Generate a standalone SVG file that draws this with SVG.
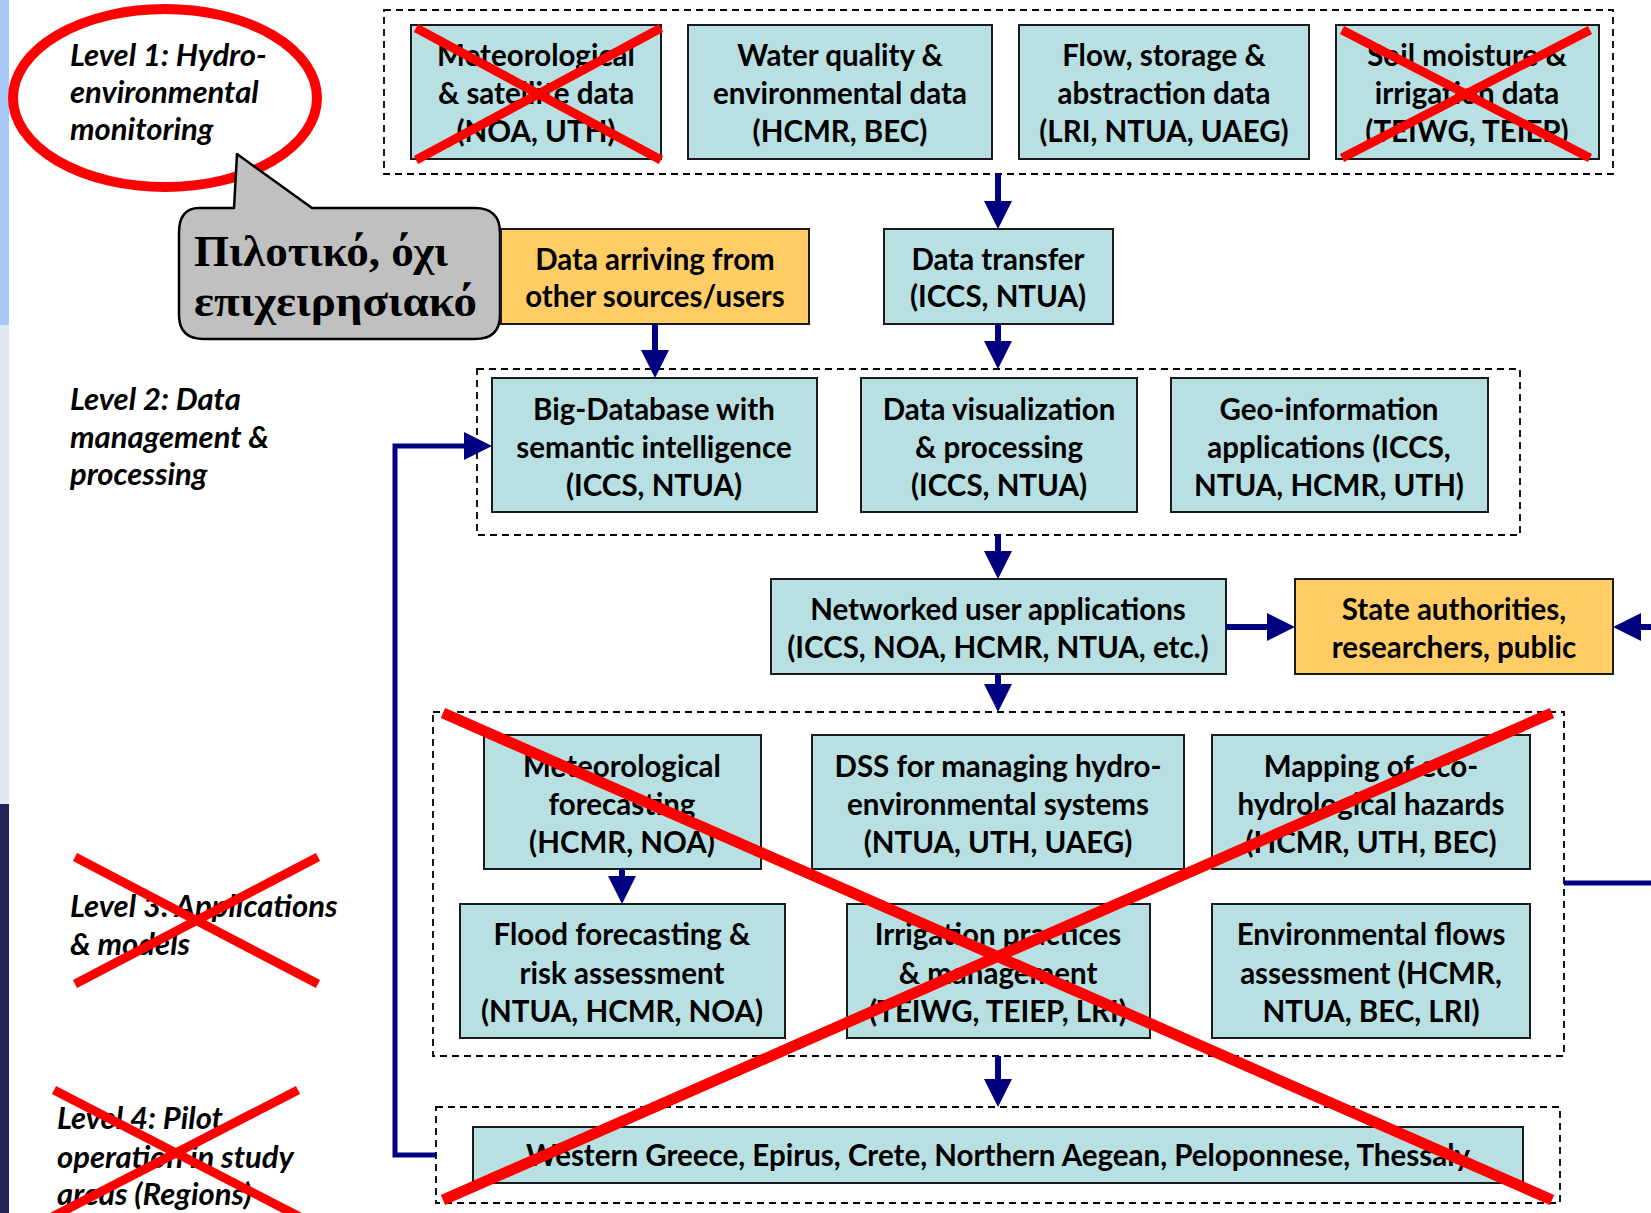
<svg xmlns="http://www.w3.org/2000/svg" width="1651" height="1213" viewBox="0 0 1651 1213">
<defs>
<style>
.box{fill:#b8dfe2;stroke:#1a1a1a;stroke-width:2}
.org{fill:#ffcc66;stroke:#1a1a1a;stroke-width:2}
.dash{fill:none;stroke:#000;stroke-width:1.8;stroke-dasharray:7 5}
.t{font-family:Lato,"Liberation Sans",sans-serif;font-weight:bold;font-size:29.5px;fill:#000;text-anchor:middle}
.lv{font-family:Lato,"Liberation Sans",sans-serif;font-weight:bold;font-style:italic;font-size:31px;fill:#000}
.gr{font-family:"Liberation Serif","DejaVu Serif",serif;font-weight:bold;font-size:44px;fill:#000}
.conn{fill:none;stroke:#000080;stroke-width:6}
.x{stroke:#ff0000;stroke-width:9;fill:none}
.xb{stroke:#ff0000;stroke-width:11;fill:none}
</style>
<marker id="ah" viewBox="0 0 28 28" refX="0" refY="14" markerWidth="28" markerHeight="28" markerUnits="userSpaceOnUse" orient="auto">
<path d="M0 0 L28 14 L0 28 Z" fill="#000080"/>
</marker>
</defs>
<rect width="1651" height="1213" fill="#ffffff"/>
<g id="edge-strip">
<rect x="0" y="0" width="9" height="325" fill="#a8c8f8"/>
<rect x="0" y="325" width="9" height="479" fill="#e0e8f4"/>
<rect x="0" y="804" width="9" height="409" fill="#24245c"/>
</g>

<g id="containers">
<rect class="dash" x="384" y="10" width="1229" height="164"/>
<rect class="dash" x="477" y="369" width="1043" height="166"/>
<rect class="dash" x="433" y="712" width="1131" height="344"/>
<rect class="dash" x="436" y="1107" width="1124" height="96"/>
</g>

<g id="level-labels">
<g id="level1">
<ellipse cx="165" cy="98" rx="152" ry="89" fill="none" stroke="#ff0000" stroke-width="10"/>
<text class="lv" x="70" y="66">Level 1: Hydro-</text>
<text class="lv" x="70" y="103">environmental</text>
<text class="lv" x="70" y="140">monitoring</text>
</g>
<g id="level2">
<text class="lv" x="70" y="410">Level 2: Data</text>
<text class="lv" x="70" y="448">management &amp;</text>
<text class="lv" x="70" y="485">processing</text>
</g>
<g id="level3">
<text class="lv" x="70" y="917">Level 3: Applications</text>
<text class="lv" x="70" y="955">&amp; models</text>
</g>
<g id="level4">
<text class="lv" x="57" y="1129">Level 4: Pilot</text>
<text class="lv" x="57" y="1168">operation in study</text>
<text class="lv" x="57" y="1205">areas (Regions)</text>
</g>
</g>

<g id="callout">
<path d="M199 208 H234 L237 154 L312 208 H475 Q500 208 500 233 V315 Q500 339 475 339 H204 Q179 339 179 315 V233 Q179 208 199 208 Z" fill="#c0c0c0" stroke="#000" stroke-width="2.5" stroke-linejoin="round"/>
<text class="gr" x="194" y="266" textLength="254" lengthAdjust="spacingAndGlyphs">Πιλοτικό, όχι</text>
<text class="gr" x="194" y="316" textLength="283" lengthAdjust="spacingAndGlyphs">επιχειρησιακό</text>
</g>

<g id="n-meteo-data">
<rect class="box" x="411" y="25" width="250" height="134"/>
<text class="t" x="536" y="66">Meteorological</text>
<text class="t" x="536" y="104">&amp; satellite data</text>
<text class="t" x="536" y="142">(NOA, UTH)</text>
</g>
<g id="n-water">
<rect class="box" x="688" y="25" width="304" height="134"/>
<text class="t" x="840" y="66">Water quality &amp;</text>
<text class="t" x="840" y="104">environmental data</text>
<text class="t" x="840" y="142">(HCMR, BEC)</text>
</g>
<g id="n-flow">
<rect class="box" x="1019" y="25" width="290" height="134"/>
<text class="t" x="1164" y="66">Flow, storage &amp;</text>
<text class="t" x="1164" y="104">abstraction data</text>
<text class="t" x="1164" y="142">(LRI, NTUA, UAEG)</text>
</g>
<g id="n-soil">
<rect class="box" x="1336" y="25" width="263" height="134"/>
<text class="t" x="1467" y="66">Soil moisture &amp;</text>
<text class="t" x="1467" y="104">irrigation data</text>
<text class="t" x="1467" y="142">(TEIWG, TEIEP)</text>
</g>

<g id="n-other">
<rect class="org" x="501" y="229" width="308" height="95"/>
<text class="t" x="655" y="270">Data arriving from</text>
<text class="t" x="655" y="307">other sources/users</text>
</g>
<g id="n-transfer">
<rect class="box" x="884" y="229" width="229" height="95"/>
<text class="t" x="998" y="270">Data transfer</text>
<text class="t" x="998" y="307">(ICCS, NTUA)</text>
</g>

<g id="n-bigdb">
<rect class="box" x="492" y="378" width="325" height="134"/>
<text class="t" x="654" y="420">Big-Database with</text>
<text class="t" x="654" y="458">semantic intelligence</text>
<text class="t" x="654" y="496">(ICCS, NTUA)</text>
</g>
<g id="n-vis">
<rect class="box" x="861" y="378" width="276" height="134"/>
<text class="t" x="999" y="420">Data visualization</text>
<text class="t" x="999" y="458">&amp; processing</text>
<text class="t" x="999" y="496">(ICCS, NTUA)</text>
</g>
<g id="n-geo">
<rect class="box" x="1171" y="378" width="317" height="134"/>
<text class="t" x="1329" y="420">Geo-information</text>
<text class="t" x="1329" y="458">applications (ICCS,</text>
<text class="t" x="1329" y="496">NTUA, HCMR, UTH)</text>
</g>

<g id="n-networked">
<rect class="box" x="771" y="579" width="455" height="95"/>
<text class="t" x="998" y="620">Networked user applications</text>
<text class="t" x="998" y="658">(ICCS, NOA, HCMR, NTUA, etc.)</text>
</g>
<g id="n-state">
<rect class="org" x="1295" y="579" width="318" height="95"/>
<text class="t" x="1454" y="620">State authorities,</text>
<text class="t" x="1454" y="658">researchers, public</text>
</g>

<g id="n-metfc">
<rect class="box" x="484" y="735" width="277" height="134"/>
<text class="t" x="622" y="777">Meteorological</text>
<text class="t" x="622" y="815">forecasting</text>
<text class="t" x="622" y="853">(HCMR, NOA)</text>
</g>
<g id="n-dss">
<rect class="box" x="812" y="735" width="372" height="134"/>
<text class="t" x="998" y="777">DSS for managing hydro-</text>
<text class="t" x="998" y="815">environmental systems</text>
<text class="t" x="998" y="853">(NTUA, UTH, UAEG)</text>
</g>
<g id="n-mapping">
<rect class="box" x="1212" y="735" width="318" height="134"/>
<text class="t" x="1371" y="777">Mapping of eco-</text>
<text class="t" x="1371" y="815">hydrological hazards</text>
<text class="t" x="1371" y="853">(HCMR, UTH, BEC)</text>
</g>
<g id="n-flood">
<rect class="box" x="460" y="904" width="325" height="134"/>
<text class="t" x="622" y="945">Flood forecasting &amp;</text>
<text class="t" x="622" y="984">risk assessment</text>
<text class="t" x="622" y="1022">(NTUA, HCMR, NOA)</text>
</g>
<g id="n-irrig">
<rect class="box" x="847" y="904" width="303" height="134"/>
<text class="t" x="998" y="945">Irrigation practices</text>
<text class="t" x="998" y="984">&amp; management</text>
<text class="t" x="998" y="1022">(TEIWG, TEIEP, LRI)</text>
</g>
<g id="n-envflows">
<rect class="box" x="1212" y="904" width="318" height="134"/>
<text class="t" x="1371" y="945">Environmental flows</text>
<text class="t" x="1371" y="984">assessment (HCMR,</text>
<text class="t" x="1371" y="1022">NTUA, BEC, LRI)</text>
</g>

<g id="n-regions">
<rect class="box" x="473" y="1127" width="1050" height="56"/>
<text class="t" x="998" y="1166">Western Greece, Epirus, Crete, Northern Aegean, Peloponnese, Thessaly</text>
</g>

<g id="connectors">
<path class="conn" d="M998 174 V201" marker-end="url(#ah)"/>
<path class="conn" d="M655 324 V350" marker-end="url(#ah)"/>
<path class="conn" d="M998 324 V341" marker-end="url(#ah)"/>
<path class="conn" d="M998 535 V551" marker-end="url(#ah)"/>
<path class="conn" d="M1226 627 H1267" marker-end="url(#ah)"/>
<path class="conn" d="M1651 627 H1641" marker-end="url(#ah)"/>
<path class="conn" d="M998 674 V684" marker-end="url(#ah)"/>
<path class="conn" d="M622 869 V876" marker-end="url(#ah)"/>
<path class="conn" d="M998 1056 V1079" marker-end="url(#ah)"/>
<path class="conn" style="stroke-width:5" d="M436 1155 H395 V446 H464" marker-end="url(#ah)"/>
<path class="conn" style="stroke-width:5" d="M1564 883 H1651"/>
</g>

<g id="red-crosses">
<path class="x" d="M416 28 L661 160 M661 28 L416 160"/>
<path class="x" d="M1342 30 L1590 158 M1590 30 L1342 158"/>
<path class="xb" d="M443 713 L1552 1200 M1552 713 L443 1200"/>
<path class="x" d="M75 857 L318 984 M318 857 L75 984"/>
<path class="x" d="M54 1090 L300 1217 M298 1090 L52 1217"/>
</g>
</svg>
